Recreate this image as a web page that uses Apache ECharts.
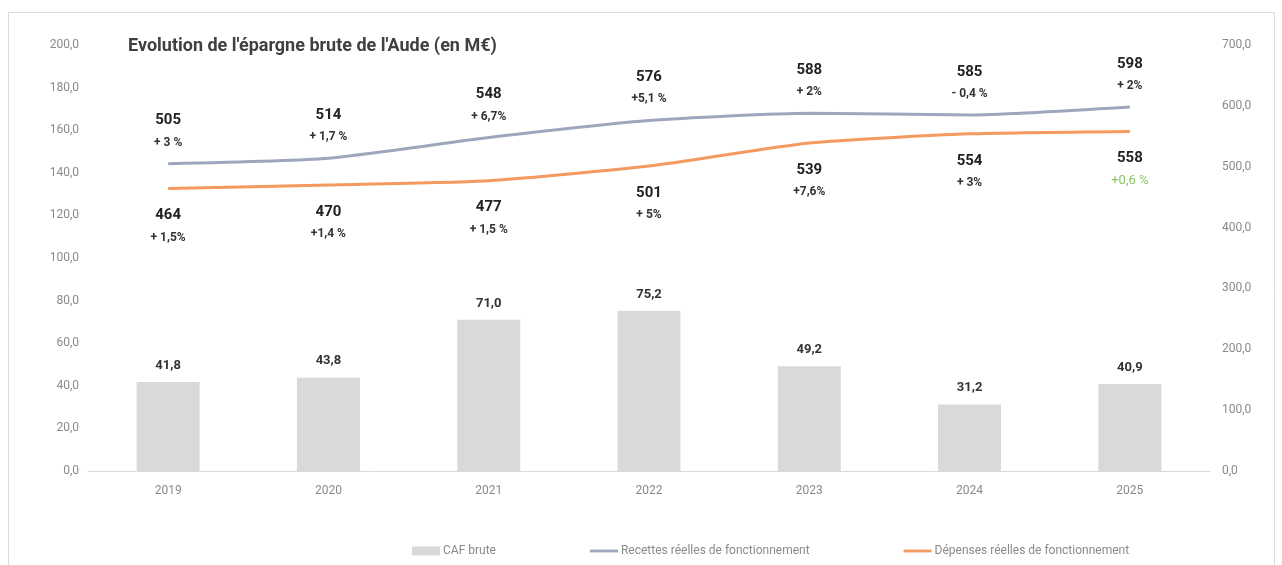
<!DOCTYPE html>
<html>
<head>
<meta charset="utf-8">
<script src="https://cdn.jsdelivr.net/npm/echarts@6/dist/echarts.min.js"></script>
<style>
  html, body { margin: 0; padding: 0; background: #fff; }
  #chart { width: 1282px; height: 565px; }
</style>
</head>
<body>
<div id="chart"></div>
<script>
var years = ["2019", "2020", "2021", "2022", "2023", "2024", "2025"];
var cafBrute = [41.8, 43.8, 71.0, 75.2, 49.2, 31.2, 40.9];
var recettes = [505, 514, 548, 576, 588, 585, 598];
var recettesPct = ["+ 3 %", "+ 1,7 %", "+ 6,7%", "+5,1 %", "+ 2%", "- 0,4 %", "+ 2%"];
var depenses = [464, 470, 477, 501, 539, 554, 558];
var depensesPct = ["+ 1,5%", "+1,4 %", "+ 1,5 %", "+ 5%", "+7,6%", "+ 3%", "+0,6 %"];
var depensesPctGreen = [false, false, false, false, false, false, true];

var FONT = "'Liberation Sans Narrow', 'Roboto', sans-serif";

function frNum(v) {
  return v.toFixed(1).replace(".", ",");
}

var myChart = echarts.init(document.getElementById("chart"));

var lineLabelRich = {
  v: { fontFamily: FONT, fontSize: 15, fontWeight: "bold", color: "#222", lineHeight: 22 },
  p: { fontFamily: FONT, fontSize: 12, fontWeight: "bold", color: "#333", lineHeight: 22 },
  g: { fontFamily: FONT, fontSize: 13, color: "#8cc46a", lineHeight: 22 },
};

var options = {
  backgroundColor: "#fff",
  animation: false,
  textStyle: { fontFamily: FONT },
  title: {
    text: "Evolution de l'épargne brute de l'Aude (en M€)",
    left: 123,
    top: 32,
    textStyle: {
      fontFamily: FONT,
      fontSize: 18,
      fontWeight: "bold",
      color: "#404040",
    },
  },
  graphic: [
    {
      type: "rect",
      shape: { x: 8.5, y: 12.5, width: 1266, height: 570 },
      style: { fill: "none", stroke: "#dcdcdc", lineWidth: 1 },
      silent: true,
    },
  ],
  legend: {
    left: 407,
    top: 540,
    itemGap: 94,
    itemWidth: 28,
    itemHeight: 9,
    textStyle: { fontFamily: FONT, fontSize: 12, color: "#8a8a8a", padding: [0, 0, 0, -2] },
    data: [
      { name: "CAF brute", icon: "rect", itemStyle: { color: "#d9d9d9" } },
      { name: "Recettes réelles de fonctionnement", icon: "path://M0,0 L30,0 L30,3 L0,3 Z" },
      { name: "Dépenses réelles de fonctionnement", icon: "path://M0,0 L30,0 L30,3 L0,3 Z" },
    ],
  },
  grid: {
    left: 88,
    right: 72,
    top: 45,
    bottom: 94,
  },
  xAxis: {
    type: "category",
    data: years,
    boundaryGap: true,
    axisLine: { show: true, lineStyle: { color: "#d9d9d9", width: 1 } },
    axisTick: { show: false },
    axisLabel: { color: "#8a8a8a", fontSize: 12, margin: 14, fontFamily: FONT },
  },
  yAxis: [
    {
      type: "value",
      min: 0,
      max: 200,
      interval: 20,
      axisLine: { show: false },
      axisTick: { show: false },
      splitLine: { show: false },
      axisLabel: { color: "#8a8a8a", fontSize: 12, margin: 9, fontFamily: FONT, formatter: frNum },
    },
    {
      type: "value",
      min: 0,
      max: 700,
      interval: 100,
      axisLine: { show: false },
      axisTick: { show: false },
      splitLine: { show: false },
      axisLabel: { color: "#8a8a8a", fontSize: 12, margin: 12, fontFamily: FONT, formatter: frNum },
    },
  ],
  series: [
    {
      name: "CAF brute",
      type: "bar",
      yAxisIndex: 0,
      data: cafBrute,
      barWidth: 63,
      itemStyle: { color: "#d9d9d9" },
      label: {
        show: true,
        position: "top",
        distance: 10,
        fontFamily: FONT,
        fontSize: 13,
        fontWeight: "bold",
        color: "#333",
        formatter: function (p) {
          return frNum(p.value);
        },
      },
    },
    {
      name: "Recettes réelles de fonctionnement",
      type: "line",
      yAxisIndex: 1,
      data: recettes,
      smooth: 0.2,
      showSymbol: true,
      symbol: "circle",
      symbolSize: 0,
      color: "#9ea6be",
      lineStyle: { color: "#9ea6be", width: 3 },
      label: {
        show: true,
        position: "top",
        distance: 10,
        align: "center",
        rich: lineLabelRich,
        formatter: function (p) {
          return "{v|" + p.value + "}\n{p|" + recettesPct[p.dataIndex] + "}";
        },
      },
    },
    {
      name: "Dépenses réelles de fonctionnement",
      type: "line",
      yAxisIndex: 1,
      data: depenses,
      smooth: 0.2,
      showSymbol: true,
      symbol: "circle",
      symbolSize: 0,
      color: "#f4995f",
      lineStyle: { color: "#f4995f", width: 3 },
      label: {
        show: true,
        position: "bottom",
        distance: 16,
        align: "center",
        rich: lineLabelRich,
        formatter: function (p) {
          var key = depensesPctGreen[p.dataIndex] ? "g" : "p";
          return "{v|" + p.value + "}\n{" + key + "|" + depensesPct[p.dataIndex] + "}";
        },
      },
    },
  ],
};

myChart.setOption(options);
</script>
</body>
</html>
